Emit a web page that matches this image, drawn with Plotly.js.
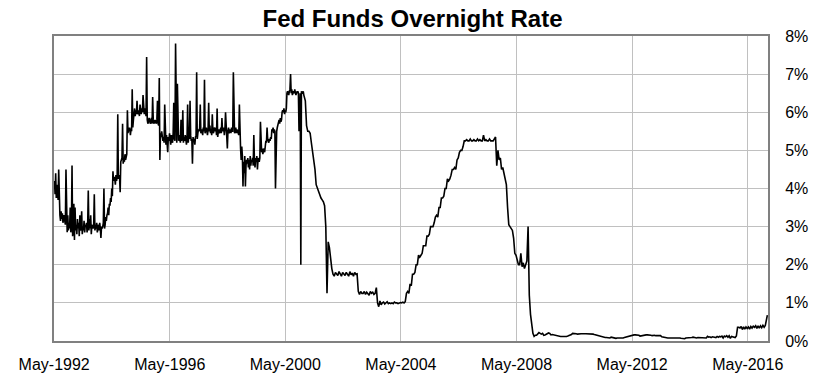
<!DOCTYPE html>
<html>
<head>
<meta charset="utf-8">
<script src="https://cdn.plot.ly/plotly-3.0.1.min.js"></script>
<style>html,body{margin:0;padding:0;background:#fff;}#chart{width:825px;height:383px;}</style>
</head>
<body>
<div id="chart"></div>
<script>
// Fed Funds overnight rate (%), grouped by period
const periods = [
  ['1992-05-01','1993-01-01'],['1993-01-01','1994-01-01'],['1994-01-01','1995-01-01'],
  ['1995-01-01','1996-01-01'],['1996-01-01','1997-01-01'],['1997-01-01','1998-01-01'],
  ['1998-01-01','1999-01-01'],['1999-01-01','2000-01-01'],['2000-01-01','2001-01-01'],
  ['2001-01-01','2002-01-01'],['2002-01-01','2003-01-01'],['2003-01-01','2004-01-01'],
  ['2004-01-01','2005-01-01'],['2005-01-01','2006-01-01'],['2006-01-01','2007-01-01'],
  ['2007-01-01','2008-01-01'],['2008-01-01','2009-01-01'],['2009-01-01','2010-01-01'],
  ['2010-01-01','2011-01-01'],['2011-01-01','2012-01-01'],['2012-01-01','2013-01-01'],
  ['2013-01-01','2014-01-01'],['2014-01-01','2015-01-01'],['2015-01-01','2016-01-01'],
  ['2016-01-01','2017-01-01'],['2017-01-02','2017-01-06']
];
const y1992 = [4.2,3.85,4.4,3.75, 3.9,4.1,3.7,4.5, 3.45,3.3,3.15,3.4, 3.2,3.35,3.1,3.25, 3.3,3.15,3.05,4.5, 3.0,2.85,3.3,2.9, 3.1,2.95,3.5,2.85, 3.0,4.6,2.75,2.95];
const y1993 = [3.6,2.65,3.5,2.9, 3.05,2.8,3.2,2.95, 3.1,2.75,3.3,2.9, 2.95,3.4,2.8,3.0, 2.9,3.15,2.85,3.05, 3.0,3.1,2.85,3.05, 3.95,2.9,3.2,2.95, 3.3,2.8,3.05,3.0, 2.95,3.05,3.85,2.9, 3.0,2.95,3.1,2.85, 3.0,3.05,2.9,3.1, 2.95,2.7,3.0,2.95];
const y1994 = [3.0,3.1,4.0,2.95, 3.05,3.25,3.15,3.3, 3.35,3.5,3.3,3.6, 3.55,3.75,3.65,4.0, 3.8,4.45,4.2,4.3, 4.25,4.1,4.35,4.2, 4.3,5.95,4.25,4.35, 4.3,3.9,4.7,4.75, 4.8,5.7,4.65,4.75, 4.7,4.9,4.75,4.85, 4.9,6.05,5.45,5.6, 5.5,5.6,5.4,5.55];
const y1995 = [5.5,6.6,5.6,5.8, 5.95,6.1,5.9,6.05, 5.95,6.3,6.0,5.95, 6.05,5.9,6.2,6.0, 5.95,6.1,6.0,6.45, 6.0,5.95,6.1,6.05, 5.9,7.45,5.8,5.7, 5.75,5.85,5.8,5.7, 5.75,5.85,5.7,6.4, 5.8,5.7,5.75,5.8, 5.75,5.7,5.8,6.3, 5.7,5.65,6.9,4.75];
const y1996 = [5.45,5.35,5.5,5.3, 5.25,5.35,5.2,6.2, 5.3,5.15,5.4,5.25, 4.95,5.35,5.25,5.45, 5.25,5.15,5.4,5.3, 5.2,5.45,6.25,5.3, 5.25,7.8,5.35,5.2, 6.75,5.3,5.25,5.4, 5.3,5.2,5.8,5.25, 5.35,6.05,5.2,5.35, 5.25,5.4,5.3,5.15, 5.3,6.2,5.2,5.4];
const y1997 = [5.3,6.3,5.4,5.25, 5.3,4.65,5.35,5.25, 5.3,5.15,5.35,5.4, 7.05,5.3,5.45,5.55, 5.5,5.6,6.2,5.45, 5.5,5.55,5.4,5.6, 5.5,6.85,5.45,5.55, 5.6,5.5,5.4,5.55, 6.25,5.5,5.65,5.45, 5.55,5.4,5.95,5.5, 5.45,5.6,5.55,5.5, 5.6,5.4,6.1,5.35];
const y1998 = [5.5,5.55,5.45,5.5, 5.6,5.45,5.85,5.5, 5.55,5.6,5.4,5.55, 6.0,5.5,5.45,5.05, 5.5,5.6,5.45,5.5, 5.55,5.45,5.6,5.5, 5.5,7.05,5.55,5.45, 5.5,5.6,5.45,5.55, 5.5,5.45,5.4,6.2, 5.3,5.05,4.75,5.1, 4.85,4.05,4.7,4.4, 4.85,4.05,4.6,4.75];
const y1999 = [4.65,4.8,4.55,4.75, 4.5,4.85,4.6,4.75, 4.7,4.8,4.6,5.4, 4.75,4.55,4.8,4.7, 4.85,4.5,4.75,4.8, 4.7,4.8,5.75,4.95, 4.95,5.05,4.9,5.0, 5.05,4.95,5.2,5.25, 5.2,5.6,5.3,5.25, 5.2,5.3,5.25,5.35, 5.3,5.55,5.5,5.6, 5.45,5.55,5.5,4.0];
const y2000 = [5.45,5.5,5.6,5.7, 5.75,5.8,5.7,5.85, 5.75,5.8,6.0,6.05, 6.0,6.1,5.95,6.05, 6.0,6.1,6.5,6.55, 6.5,6.45,6.55,6.6, 7.0,6.5,6.6,6.45, 6.5,6.55,6.5,6.6, 6.5,6.45,6.55,6.5, 6.55,6.5,5.5,6.5, 6.5,2.0,6.55,6.5, 6.5,6.55,6.45,6.4];
const y2001 = [6.3,5.65, 5.5,5.5, 5.45,5.2, 5.0,4.7, 4.5,4.1, 4.0,3.95, 3.8,3.75, 3.7,3.65, 3.55,3.0, 1.25,2.6, 2.45,2.05, 1.9,1.75];
const y2002 = [1.7,1.8,1.75,1.72,1.82,1.75,1.7,1.8,1.76,1.72,1.8,1.75,1.7,1.82,1.74,1.78,1.7,1.8,1.75,1.76,1.3,1.22,1.3,1.25];
const y2003 = [1.25,1.3,1.22,1.28,1.25,1.2,1.3,1.25,1.28,1.22,1.25,1.4,1.0,0.9,1.05,0.95,1.0,1.02,0.97,1.0,1.03,0.98,1.0,0.98];
const y2004 = [1.0,0.98,1.02,1.0,1.0,0.98,1.0,1.01,1.0,1.02,1.0,1.03,1.25,1.3,1.25,1.5,1.45,1.75,1.75,1.8,2.0,2.0,2.25,2.2];
const y2005 = [2.25,2.3,2.5,2.5,2.5,2.75,2.75,2.8,3.0,3.0,3.0,3.1,3.25,3.3,3.25,3.5,3.5,3.75,3.75,3.8,4.0,4.0,4.25,4.2];
const y2006 = [4.25,4.35,4.5,4.5,4.55,4.5,4.75,4.8,4.95,5.0,5.0,5.1,5.25,5.25,5.28,5.25,5.25,5.3,5.25,5.25,5.28,5.25,5.25,5.3];
const y2007 = [5.25,5.28,5.25,5.25,5.4,5.25,5.28,5.25,5.25,5.3,5.25,5.25,5.25,5.3,5.35,4.6,5.0,4.75,4.8,4.5,4.55,4.4,4.25,4.1];
const y2008 = [3.5,3.05,3.0,2.95,2.9,2.7,2.3,2.25,2.1,2.0,2.0,2.3,1.95,2.05,1.9,2.0,2.1,3.0,1.2,0.7,0.4,0.2,0.12,0.15];
const y2009 = [0.15,0.2,0.22,0.2,0.18,0.2,0.15,0.16,0.18,0.2,0.21,0.2,0.16,0.17,0.16,0.15,0.15,0.14,0.12,0.13,0.12,0.12,0.12,0.11];
const y2010 = [0.11,0.12,0.13,0.14,0.16,0.17,0.2,0.2,0.2,0.19,0.18,0.19,0.18,0.19,0.19,0.2,0.19,0.19,0.19,0.18,0.19,0.19,0.18,0.18];
const y2011 = [0.17,0.16,0.16,0.15,0.14,0.13,0.1,0.1,0.09,0.09,0.09,0.08,0.07,0.08,0.1,0.09,0.08,0.08,0.07,0.08,0.08,0.07,0.07,0.07];
const y2012 = [0.08,0.09,0.1,0.11,0.13,0.14,0.14,0.15,0.16,0.16,0.16,0.16,0.16,0.15,0.13,0.14,0.14,0.15,0.16,0.16,0.16,0.16,0.16,0.15];
const y2013 = [0.14,0.15,0.15,0.14,0.14,0.15,0.15,0.14,0.11,0.1,0.09,0.09,0.09,0.08,0.08,0.08,0.08,0.08,0.09,0.08,0.08,0.09,0.09,0.08];
const y2014 = [0.07,0.07,0.07,0.06,0.08,0.08,0.09,0.08,0.09,0.09,0.1,0.09,0.09,0.08,0.09,0.09,0.09,0.08,0.09,0.09,0.09,0.08,0.12,0.1];
const y2015 = [0.11,0.09,0.11,0.1,0.11,0.09,0.12,0.1,0.12,0.11,0.13,0.08,0.13,0.11,0.14,0.1,0.14,0.07,0.12,0.11,0.12,0.09,0.13,0.36];
const y2016 = [0.36,0.34,0.38,0.3,0.37,0.31,0.37,0.33,0.37,0.31,0.38,0.34,0.39,0.36,0.40,0.33,0.40,0.34,0.40,0.35,0.41,0.36,0.41,0.66];
const y2017 = [0.68];

const seriesByPeriod = [y1992,y1993,y1994,y1995,y1996,y1997,y1998,y1999,y2000,y2001,y2002,y2003,y2004,y2005,y2006,y2007,y2008,y2009,y2010,y2011,y2012,y2013,y2014,y2015,y2016,y2017];

const xTickFormat = '%b-%Y';
const title = 'Fed Funds Overnight Rate';

const xs = [], ys = [];
seriesByPeriod.forEach((vals, k) => {
  const a = new Date(periods[k][0] + 'T00:00:00Z').getTime();
  const b = new Date(periods[k][1] + 'T00:00:00Z').getTime();
  vals.forEach((v, i) => {
    xs.push(new Date(a + (b - a) * (i + 0.5) / vals.length).toISOString().slice(0, 19));
    ys.push(v);
  });
});

const font = 'Liberation Sans, Arial, sans-serif';
const trace = {x: xs, y: ys, type: 'scatter', mode: 'lines',
  line: {color: '#000000', width: 1.6}, hoverinfo: 'skip'};

const layout = {
  width: 825, height: 383,
  margin: {l: 54, r: 57, t: 36, b: 42},
  paper_bgcolor: '#ffffff', plot_bgcolor: '#ffffff',
  showlegend: false,
  title: {text: title, x: 0.5, xref: 'container', y: 0.952, yref: 'container', yanchor: 'middle',
    font: {family: font, size: 24, color: '#000000', weight: 'bold'}},
  xaxis: {type: 'date', range: ['1992-04-29', '2017-01-12'],
    tick0: '1992-05-01', dtick: 'M48', tickformat: xTickFormat,
    showgrid: true, gridcolor: '#c0c0c0', gridwidth: 1,
    showline: true, mirror: true, linecolor: '#808080', linewidth: 2,
    ticks: '', zeroline: false, ticklabelstandoff: 8,
    tickfont: {family: font, size: 16, color: '#000000'}},
  yaxis: {side: 'right', range: [0, 8], tick0: 0, dtick: 1, ticksuffix: '%',
    showgrid: true, gridcolor: '#c0c0c0', gridwidth: 1,
    showline: true, mirror: true, linecolor: '#808080', linewidth: 2,
    ticks: '', zeroline: false, ticklabelstandoff: 12,
    tickfont: {family: font, size: 16, color: '#000000'}}
};

Plotly.newPlot('chart', [trace], layout, {displayModeBar: false, staticPlot: true});
</script>
</body>
</html>
